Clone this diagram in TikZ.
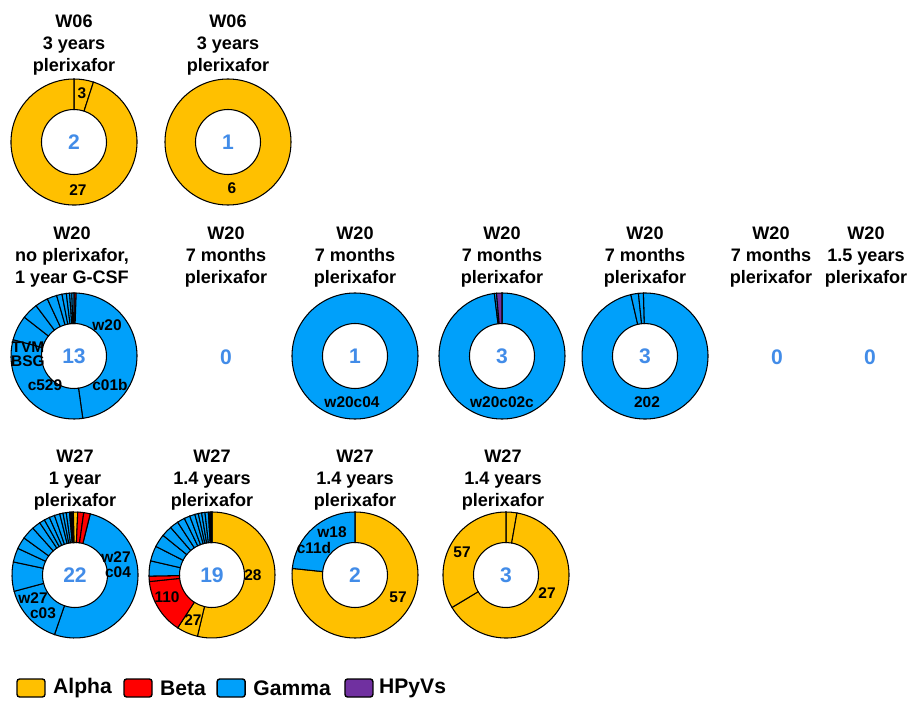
\documentclass[tikz,border=0pt]{standalone}
\usepackage{fontspec}
\setmainfont{Liberation Sans}
\usetikzlibrary{calc,positioning}

\definecolor{alphac}{RGB}{255,192,0}
\definecolor{betac}{RGB}{255,0,0}
\definecolor{gammac}{RGB}{0,160,250}
\definecolor{hpyvc}{RGB}{112,48,160}
\definecolor{numblue}{RGB}{66,140,232}

\newcommand{\Rout}{63}
\newcommand{\Rin}{32.5}
% one ring segment: centre, from angle, to angle, colour
\newcommand{\seg}[4]{%
  \filldraw[fill=#4] ($(#1)+(#2:\Rout)$) arc[start angle=#2,end angle=#3,radius=\Rout]
    -- ($(#1)+(#3:\Rin)$) arc[start angle=#3,end angle=#2,radius=\Rin] -- cycle;}
\newcommand{\ring}[2]{%
  \filldraw[fill=#2,even odd rule] (#1) circle[radius=\Rout] (#1) circle[radius=\Rin];}

\tikzset{
  ttl/.style={align=center,font=\bfseries\fontsize{10.3}{12.6}\selectfont},
  cnt/.style={text=numblue,font=\bfseries\fontsize{12}{14}\selectfont},
  lab/.style={inner sep=0pt,font=\bfseries\fontsize{8.8}{9}\selectfont},
  legbox/.style={draw,thick,rounded corners=1.5pt,minimum width=0.56cm,minimum height=0.36cm,inner sep=0pt},
  legtxt/.style={inner sep=0pt,font=\bfseries\fontsize{12}{14}\selectfont}
}

\begin{document}
\begin{tikzpicture}[x=0.02cm,y=0.02cm,line width=0.6pt]
  \useasboundingbox (0,0) rectangle (907,701);

  % ring centres
  \coordinate (a1) at (74,559);
  \coordinate (a2) at (228,559);
  \coordinate (b1) at (74,345);
  \coordinate (b3) at (355,345);
  \coordinate (b4) at (502,345);
  \coordinate (b5) at (645,345);
  \coordinate (c1) at (75,126);
  \coordinate (c2) at (212,126);
  \coordinate (c3) at (355,126);
  \coordinate (c4) at (506,126);

  % titles
  \node[ttl] (ta1) at (74,656) {W06\\3 years\\plerixafor};
  \node[ttl] (ta2) at (228,656) {W06\\3 years\\plerixafor};
  \node[ttl] (tb1) at (72,444) {W20\\no plerixafor,\\1 year G-CSF};
  \node[ttl] (tb2) at (226,444) {W20\\7 months\\plerixafor};
  \node[ttl] (tb3) at (355,444) {W20\\7 months\\plerixafor};
  \node[ttl] (tb4) at (502,444) {W20\\7 months\\plerixafor};
  \node[ttl] (tb5) at (645,444) {W20\\7 months\\plerixafor};
  \node[ttl] (tb6) at (771,444) {W20\\7 months\\plerixafor};
  \node[ttl] (tb7) at (866,444) {W20\\1.5 years\\plerixafor};
  \node[ttl] (tc1) at (75,221) {W27\\1 year\\plerixafor};
  \node[ttl] (tc2) at (212,221) {W27\\1.4 years\\plerixafor};
  \node[ttl] (tc3) at (355,221) {W27\\1.4 years\\plerixafor};
  \node[ttl] (tc4) at (503,221) {W27\\1.4 years\\plerixafor};

  % W06
  \seg{a1}{90}{72}{alphac}
  \seg{a1}{72}{-270}{alphac}
  \ring{a2}{alphac}

  % W20
  \seg{b1}{90}{88}{betac}
  \seg{b1}{88}{-82}{gammac}
  \seg{b1}{-82}{-195}{gammac}
  \seg{b1}{165}{142}{gammac}
  \foreach \p/\q in {142/127,127/115,115/106,106/101,101/97,97/94,94/92,92/90}
    \seg{b1}{\p}{\q}{gammac};
  \ring{b3}{gammac}
  \seg{b4}{90}{-263}{gammac}
  \seg{b4}{97}{95}{gammac}
  \seg{b4}{95}{90}{hpyvc}
  \seg{b5}{91.5}{-257}{gammac}
  \seg{b5}{103}{96}{gammac}
  \seg{b5}{96}{91.5}{gammac}

  % W27
  \seg{c1}{76}{-109}{gammac}
  \seg{c1}{-109}{-165}{gammac}
  \foreach \p/\q in {195/168,168/155,155/144,144/132,132/124,124/119,119/114,114/109,109/104,104/101,101/98,98/95,95/94,94/93,93/92.5,92.5/92,92/91.5}
    \seg{c1}{\p}{\q}{gammac};
  \seg{c1}{91.5}{87.5}{alphac}
  \seg{c1}{87.5}{82}{betac}
  \seg{c1}{82}{76}{betac}

  \seg{c2}{90}{-103.4}{alphac}
  \seg{c2}{-103.4}{-123}{alphac}
  \seg{c2}{237}{186}{betac}
  \seg{c2}{186}{181}{betac}
  \foreach \p/\q in {181/167,167/153,153/141,141/131,131/123,123/116,116/110.7,110.7/105.8,105.8/102.6,102.6/99.5,99.5/96.4,96.4/93.3,93.3/92,92/91,91/90}
    \seg{c2}{\p}{\q}{gammac};

  \seg{c3}{90}{-186}{alphac}
  \seg{c3}{174}{90}{gammac}

  \seg{c4}{90}{80}{alphac}
  \seg{c4}{80}{-149}{alphac}
  \seg{c4}{-149}{-270}{alphac}

  % counts
  \node[cnt] (na1) at (a1) {2};
  \node[cnt] (na2) at (a2) {1};
  \node[cnt] (nb1) at (b1) {13};
  \node[cnt] (nb2) at (226,344) {0};
  \node[cnt] (nb3) at (b3) {1};
  \node[cnt] (nb4) at (b4) {3};
  \node[cnt] (nb5) at (b5) {3};
  \node[cnt] (nb6) at (777,344) {0};
  \node[cnt] (nb7) at (870,344) {0};
  \node[cnt] (nc1) at (c1) {22};
  \node[cnt] (nc2) at (c2) {19};
  \node[cnt] (nc3) at (c3) {2};
  \node[cnt] (nc4) at (c4) {3};

  % segment labels
  \node[lab] (la1a) at (82,608) {3};
  \node[lab] (la1b) at (78,511) {27};
  \node[lab] (la2) at (232,513) {6};
  \node[lab] (lb1a) at (107,376) {w20};
  \node[lab] (lb1b) at (110,316) {c01b};
  \node[lab] (lb1c) at (45,316) {c529};
  \node[lab] (lb1d) at (28,354) {TVM};
  \node[lab] (lb1e) at (28,340) {BSG};
  \node[lab] (lb3) at (352,299) {w20c04};
  \node[lab] (lb4) at (502,299) {w20c02c};
  \node[lab] (lb5) at (647,299) {202};
  \node[lab] (lc1a) at (116,144) {w27};
  \node[lab] (lc1b) at (118,129) {c04};
  \node[lab] (lc1c) at (33,103) {w27};
  \node[lab] (lc1d) at (43,88) {c03};
  \node[lab] (lc2a) at (253,126) {28};
  \node[lab] (lc2b) at (167,104) {110};
  \node[lab] (lc2c) at (193,81) {27};
  \node[lab] (lc3a) at (332,169) {w18};
  \node[lab] (lc3b) at (314,153) {c11d};
  \node[lab] (lc3c) at (398,104) {57};
  \node[lab] (lc4a) at (462,149) {57};
  \node[lab] (lc4b) at (547,108) {27};

  % legend
  \node[legbox,fill=alphac] (kA) at (31,13) {};
  \node[legtxt,right=0.14cm of kA] (kAt) {Alpha};
  \node[legbox,fill=betac,right=0.22cm of kAt] (kB) {};
  \node[legtxt,right=0.14cm of kB] (kBt) {Beta};
  \node[legbox,fill=gammac,right=0.2cm of kBt] (kG) {};
  \node[legtxt,right=0.14cm of kG] (kGt) {Gamma};
  \node[legbox,fill=hpyvc,right=0.26cm of kGt] (kH) {};
  \node[legtxt,right=0.1cm of kH] (kHt) {HPyVs};
\end{tikzpicture}
\end{document}
